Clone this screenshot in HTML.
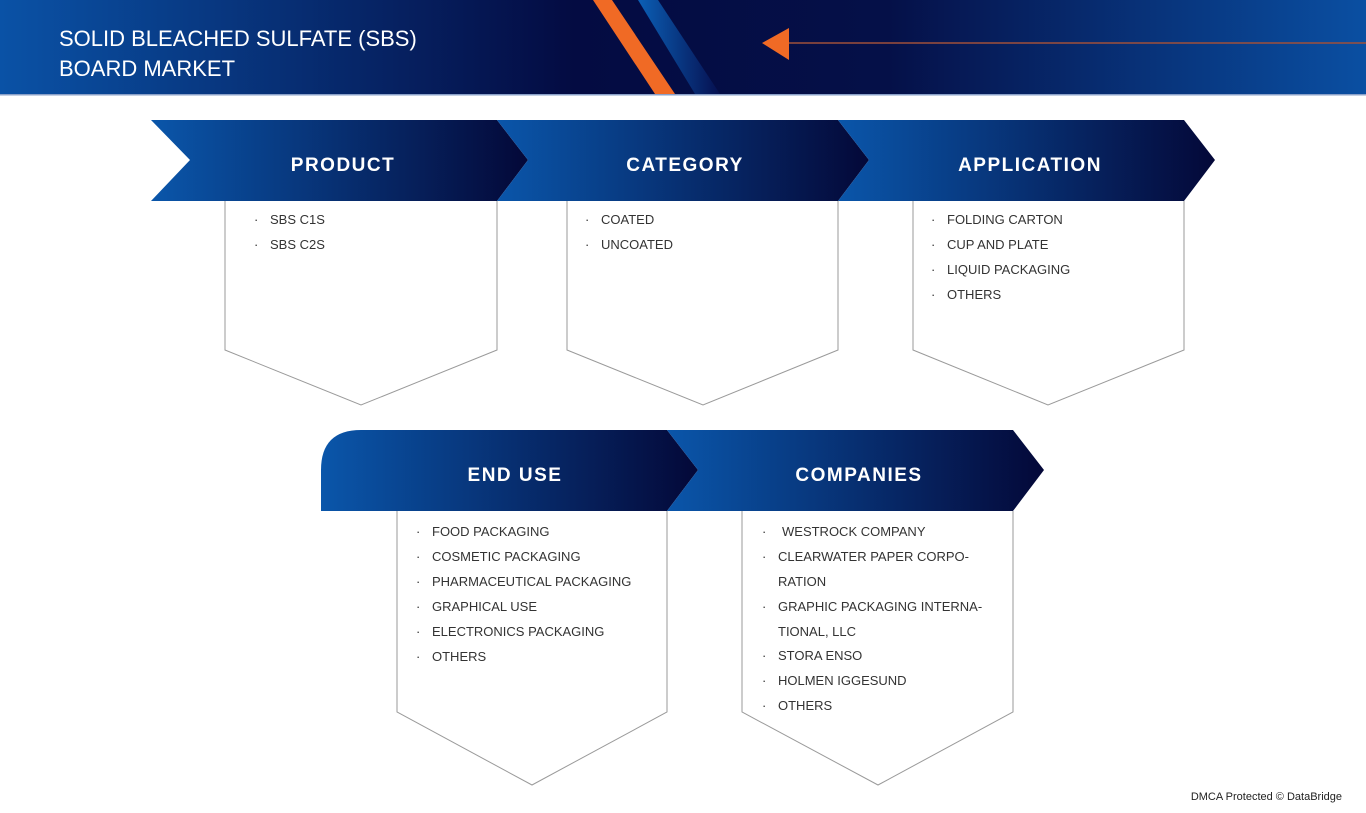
<!DOCTYPE html><html><head><meta charset="utf-8"><style>body{margin:0;width:1366px;height:808px;overflow:hidden;background:#fff;font-family:"Liberation Sans",sans-serif}</style></head><body>
<svg width="1366" height="808" viewBox="0 0 1366 808" xmlns="http://www.w3.org/2000/svg" font-family="Liberation Sans, sans-serif">
<defs>
<linearGradient id="hg" x1="0" x2="1" y1="0" y2="0"><stop offset="0" stop-color="#0a52a6"/><stop offset="0.42" stop-color="#040b42"/><stop offset="0.65" stop-color="#051048"/><stop offset="1" stop-color="#0a4fa2"/></linearGradient>
<linearGradient id="cg" x1="0" x2="1" y1="0" y2="0"><stop offset="0" stop-color="#0a56aa"/><stop offset="1" stop-color="#040838"/></linearGradient>
<linearGradient id="sg" x1="0" x2="1"><stop offset="0" stop-color="#0b5fb5"/><stop offset="1" stop-color="#061050"/></linearGradient>
</defs>
<rect x="0" y="0" width="1366" height="94" fill="url(#hg)"/>
<rect x="0" y="94" width="1366" height="1.5" fill="#8aa0c8"/>
<polygon points="593,0 612,0 675,94 655,94" fill="#f06a25"/>
<polygon points="638,0 658,0 720,94 695,94" fill="url(#sg)"/>
<polygon points="762,43 789,28 789,60" fill="#f06a25"/>
<line x1="789" y1="43" x2="1366" y2="43" stroke="#a0503a" stroke-width="1.5"/>
<text x="59" y="46" fill="#fff" font-size="22">SOLID BLEACHED SULFATE (SBS)</text>
<text x="59" y="76" fill="#fff" font-size="22">BOARD MARKET</text>
<g fill="url(#cg)">
<polygon points="151,120 497,120 528,160 497,201 151,201 190,160"/>
<polygon points="497,120 838,120 869,160 838,201 497,201 528,160"/>
<polygon points="838,120 1184,120 1215,160 1184,201 838,201 869,160"/>
<path d="M361,430 L667,430 L698,470 L667,511 L321,511 L321,470 Q321,430 361,430Z"/>
<polygon points="667,430 1013,430 1044,470 1013,511 667,511 698,470"/>
</g>
<g fill="none" stroke="#9a9a9a" stroke-width="1">
<polyline points="225,201 225,350 361,405 497,350 497,201"/>
<polyline points="567,201 567,350 703,405 838,350 838,201"/>
<polyline points="913,201 913,350 1048,405 1184,350 1184,201"/>
<polyline points="397,511 397,712 532,785 667,712 667,511"/>
<polyline points="742,511 742,712 878,785 1013,712 1013,511"/>
</g>
<g fill="#fff" font-size="19" font-weight="bold" letter-spacing="1.5" text-anchor="middle">
<text x="343" y="171">PRODUCT</text><text x="685" y="171">CATEGORY</text><text x="1030" y="171">APPLICATION</text>
<text x="515" y="481">END USE</text><text x="859" y="481">COMPANIES</text>
</g>
<g fill="#333" font-size="13">
<text x="254" y="224">·</text><text x="270" y="224">SBS C1S</text>
<text x="254" y="249">·</text><text x="270" y="249">SBS C2S</text>
<text x="585" y="224">·</text><text x="601" y="224">COATED</text>
<text x="585" y="249">·</text><text x="601" y="249">UNCOATED</text>
<text x="931" y="224">·</text><text x="947" y="224">FOLDING CARTON</text>
<text x="931" y="249">·</text><text x="947" y="249">CUP AND PLATE</text>
<text x="931" y="274">·</text><text x="947" y="274">LIQUID PACKAGING</text>
<text x="931" y="299">·</text><text x="947" y="299">OTHERS</text>
<text x="416" y="536">·</text><text x="432" y="536">FOOD PACKAGING</text>
<text x="416" y="561">·</text><text x="432" y="561">COSMETIC PACKAGING</text>
<text x="416" y="586">·</text><text x="432" y="586">PHARMACEUTICAL PACKAGING</text>
<text x="416" y="611">·</text><text x="432" y="611">GRAPHICAL USE</text>
<text x="416" y="636">·</text><text x="432" y="636">ELECTRONICS PACKAGING</text>
<text x="416" y="661">·</text><text x="432" y="661">OTHERS</text>
<text x="762" y="536">·</text><text x="782" y="536">WESTROCK COMPANY</text>
<text x="762" y="561">·</text><text x="778" y="561">CLEARWATER PAPER CORPO-</text>
<text x="778" y="586">RATION</text>
<text x="762" y="611">·</text><text x="778" y="611">GRAPHIC PACKAGING INTERNA-</text>
<text x="778" y="636">TIONAL, LLC</text>
<text x="762" y="660">·</text><text x="778" y="660">STORA ENSO</text>
<text x="762" y="685">·</text><text x="778" y="685">HOLMEN IGGESUND</text>
<text x="762" y="710">·</text><text x="778" y="710">OTHERS</text>
</g>
<text x="1342" y="800" fill="#222" font-size="11" text-anchor="end">DMCA Protected © DataBridge</text>
</svg></body></html>
